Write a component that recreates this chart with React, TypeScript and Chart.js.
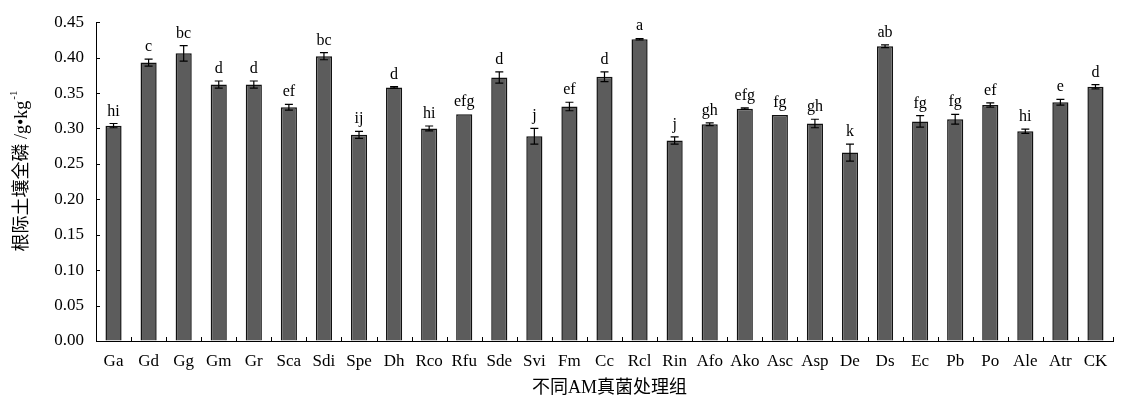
import React, { useEffect, useRef } from 'react';
import { Chart, registerables } from 'chart.js';
Chart.register(...registerables);

const categories = ['Ga','Gd','Gg','Gm','Gr','Sca','Sdi','Spe','Dh','Rco','Rfu','Sde','Svi','Fm','Cc','Rcl','Rin','Afo','Ako','Asc','Asp','De','Ds','Ec','Pb','Po','Ale','Atr','CK'];
const means = [0.304,0.393,0.406,0.362,0.362,0.330,0.402,0.291,0.358,0.300,0.320,0.372,0.289,0.331,0.373,0.426,0.283,0.306,0.328,0.319,0.307,0.266,0.416,0.310,0.313,0.333,0.296,0.337,0.359];
const errors = [0.003,0.005,0.011,0.005,0.005,0.004,0.005,0.005,0.001,0.0035,0.0,0.008,0.011,0.006,0.007,0.001,0.005,0.002,0.001,0.0,0.006,0.012,0.002,0.008,0.007,0.003,0.003,0.004,0.003];
const letters = ['hi','c','bc','d','d','ef','bc','ij','d','hi','efg','d','j','ef','d','a','j','gh','efg','fg','gh','k','ab','fg','fg','ef','hi','e','d'];
const yMin = 0;
const yMax = 0.45;
const yStep = 0.05;
const yTitleMain = '根际土壤全磷 /g•kg';
const yTitleSup = '-1';
const xTitle = '不同AM真菌处理组';

const SERIF = '"Liberation Serif", "Noto Sans CJK SC", serif';

const extrasPlugin = {
  id: 'extras',
  afterDatasetsDraw(chart: any) {
    const ctx = chart.ctx;
    const x = chart.scales.x;
    const y = chart.scales.y;
    ctx.save();
    ctx.strokeStyle = '#000';
    ctx.lineWidth = 1.2;
    ctx.fillStyle = '#000';
    ctx.font = '16px ' + SERIF;
    ctx.textAlign = 'center';
    ctx.textBaseline = 'alphabetic';
    for (let i = 0; i < means.length; i++) {
      const cx = x.getPixelForValue(i);
      const top = y.getPixelForValue(means[i] + errors[i]);
      const bot = y.getPixelForValue(means[i] - errors[i]);
      if (errors[i] > 0) {
        ctx.beginPath();
        ctx.moveTo(cx, top); ctx.lineTo(cx, bot);
        ctx.moveTo(cx - 4, top); ctx.lineTo(cx + 4, top);
        ctx.moveTo(cx - 4, bot); ctx.lineTo(cx + 4, bot);
        ctx.stroke();
      }
      ctx.fillText(letters[i], cx, top - 8);
    }
    ctx.restore();
  },
  afterDraw(chart: any) {
    const ctx = chart.ctx;
    const x = chart.scales.x;
    const y = chart.scales.y;
    const area = chart.chartArea;
    ctx.save();
    ctx.strokeStyle = '#000';
    ctx.lineWidth = 1;
    ctx.beginPath();
    for (let v = yMin; v <= yMax + 1e-9; v += yStep) {
      const py = Math.round(y.getPixelForValue(v)) + 0.5;
      ctx.moveTo(area.left, py); ctx.lineTo(area.left + 4, py);
    }
    for (let i = 0; i <= categories.length; i++) {
      const px = Math.round(x.getPixelForValue(i - 0.5)) + 0.5;
      ctx.moveTo(px, area.bottom); ctx.lineTo(px, area.bottom - 4);
    }
    ctx.stroke();

    ctx.fillStyle = '#000';
    ctx.font = '18px ' + SERIF;
    ctx.textAlign = 'center';
    ctx.textBaseline = 'middle';
    ctx.fillText(xTitle, (area.left + area.right) / 2 + 5, 388);

    ctx.translate(22, (area.top + area.bottom) / 2 - 10);
    ctx.rotate(-Math.PI / 2);
    ctx.font = '18px ' + SERIF;
    const wMain = ctx.measureText(yTitleMain).width;
    ctx.font = '11px ' + SERIF;
    const wSup = ctx.measureText(yTitleSup).width;
    const start = -(wMain + wSup) / 2;
    ctx.textAlign = 'left';
    ctx.textBaseline = 'middle';
    ctx.font = '18px ' + SERIF;
    ctx.fillText(yTitleMain, start, 0);
    ctx.font = '11px ' + SERIF;
    ctx.fillText(yTitleSup, start + wMain + 1, -8);
    ctx.restore();
  },
};

export default function App() {
  const ref = useRef<HTMLCanvasElement>(null);
  useEffect(() => {
    if (!ref.current) return;
    const chart = new Chart(ref.current, {
      type: 'bar',
      data: {
        labels: categories,
        datasets: [{
          data: means,
          backgroundColor: '#5c5c5c',
          borderColor: '#111',
          borderWidth: 1.5,
          barPercentage: 0.46,
          categoryPercentage: 1,
        }],
      },
      options: {
        animation: false,
        responsive: true,
        maintainAspectRatio: false,
        layout: { padding: { left: 0, right: 27, top: 15, bottom: 0 } },
        plugins: { legend: { display: false }, tooltip: { enabled: false } },
        scales: {
          x: {
            grid: { display: true, drawOnChartArea: false, drawTicks: false },
            border: { display: true, color: '#000', width: 1 },
            ticks: { color: '#000', font: { family: SERIF, size: 17 }, padding: 10, maxRotation: 0, autoSkip: false },
            afterFit: (s: any) => { s.height = 59; },
          },
          y: {
            min: yMin,
            max: yMax,
            grid: { display: true, drawOnChartArea: false, drawTicks: false },
            border: { display: true, color: '#000', width: 1 },
            ticks: {
              stepSize: yStep,
              color: '#000',
              font: { family: SERIF, size: 17 },
              padding: 12,
              callback: (v: any) => Number(v).toFixed(2),
            },
            afterFit: (s: any) => { s.width = 96; },
          },
        },
      },
      plugins: [extrasPlugin],
    });
    return () => chart.destroy();
  }, []);
  return (
    <div style={{ position: 'absolute', left: 0, top: 0, width: 1140, height: 400, background: '#fff' }}>
      <canvas ref={ref} />
    </div>
  );
}
